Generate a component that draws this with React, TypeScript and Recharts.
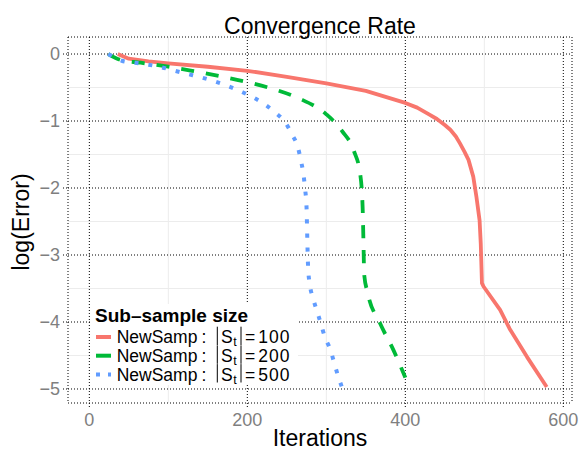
import React from 'react';
import { LineChart, Line, XAxis, YAxis, CartesianGrid, Legend, Customized } from 'recharts';

const redIter = [36, 50, 75, 100, 150, 200, 250, 300, 350, 400, 415, 430, 440, 450, 457, 464, 469, 475, 480, 486, 490, 494, 495.5, 497, 499, 520, 532, 554, 579];
const redErr = [0, -0.07, -0.11, -0.14, -0.19, -0.25, -0.34, -0.44, -0.55, -0.73, -0.8, -0.9, -0.97, -1.06, -1.13, -1.23, -1.33, -1.46, -1.58, -1.83, -2.13, -2.48, -2.83, -3.42, -3.47, -3.82, -4.1, -4.52, -4.97];

const greenIter = [24, 40, 65, 100, 130, 165, 200, 235, 265, 300, 320, 335, 343, 346, 347, 348, 352, 368, 385, 400];
const greenErr = [0, -0.09, -0.13, -0.19, -0.25, -0.33, -0.42, -0.53, -0.66, -0.9, -1.15, -1.45, -1.8, -2.3, -2.8, -3.3, -3.55, -4.02, -4.42, -4.83];

const blueIter = [24, 41, 58, 75, 92, 108, 125, 142, 159, 176, 192, 208, 222, 236, 248, 257, 264, 268, 271, 273, 275, 276, 277, 279, 283, 288, 293, 298, 305, 310, 315, 320];
const blueErr = [0, -0.1, -0.13, -0.16, -0.2, -0.25, -0.3, -0.35, -0.41, -0.48, -0.56, -0.65, -0.75, -0.88, -1.02, -1.21, -1.39, -1.6, -1.79, -2.0, -2.3, -2.8, -3.2, -3.43, -3.64, -3.83, -4.02, -4.22, -4.41, -4.61, -4.81, -4.98];

const sampleSizes = ['100', '200', '500'];
const xTicks = [0, 200, 400, 600];
const yTicks = [0, -1, -2, -3, -4, -5];
const xMinor = [100, 300, 500];
const yMinor = [-0.5, -1.5, -2.5, -3.5, -4.5];

const toPoints = (xs: number[], ys: number[]) => xs.map((x, i) => ({ iter: x, err: ys[i] }));

const series = [
  { name: sampleSizes[0], data: toPoints(redIter, redErr), color: '#F8766D', dash: undefined, keyDash: undefined, curve: 'linear' },
  { name: sampleSizes[1], data: toPoints(greenIter, greenErr), color: '#00BA38', dash: '13 12', keyDash: undefined, curve: 'monotone' },
  { name: sampleSizes[2], data: toPoints(blueIter, blueErr), color: '#619CFF', dash: '4 10', keyDash: '4 8', curve: 'monotone' },
];

const FONT = '"Liberation Sans", Arial, Helvetica, sans-serif';
const minus = (v: number) => String(v).replace('-', '\u2212');

// legend drawn as a small svg, origin at the wrapper's top-left
const LegendBox = () => (
  <svg width={208} height={86} style={{ display: 'block', fontFamily: FONT }}>
    <rect x={0} y={0} width={208} height={81} fill="#fff" />
    <text x={5} y={18} fontSize={19} fontWeight="bold" fill="#000">Sub–sample size</text>
    {series.map((s, i) => {
      const base = 39.3 + i * 18.7;
      return (
        <g key={s.name} fill="#000" fontSize={17.5}>
          <line x1={6} y1={base - 6.3} x2={21} y2={base - 6.3} stroke={s.color} strokeWidth={4} strokeDasharray={s.keyDash} />
          <text x={26.7} y={base}>NewSamp</text>
          <text x={111.5} y={base}>:</text>
          <line x1={127.3} y1={base - 16.6} x2={127.3} y2={base + 1.8} stroke="#000" strokeWidth={1} />
          <text x={131} y={base}>S</text>
          <text x={143.3} y={base + 3} fontSize={12.5}>t</text>
          <line x1={151} y1={base - 16.6} x2={151} y2={base + 1.8} stroke="#000" strokeWidth={1} />
          <text x={155} y={base}>=</text>
          <text x={168.3} y={base} letterSpacing={1}>{s.name}</text>
        </g>
      );
    })}
  </svg>
);

const Titles = () => (
  <g fontFamily={FONT}>
    <text x={320} y={34} textAnchor="middle" fontSize={23} fill="#000">Convergence Rate</text>
    <text x={320} y={446} textAnchor="middle" fontSize={23} fill="#000">Iterations</text>
    <text x={29} y={222} textAnchor="middle" fontSize={23} fill="#000" transform="rotate(-90, 29, 222)">log(Error)</text>
  </g>
);

const tickStyle = { fontSize: 18, fill: '#7f7f7f', fontFamily: FONT };
const dotted = { stroke: '#000', strokeDasharray: '1 2' };

export default function App() {
  return (
    <div style={{ position: 'absolute', left: 0, top: 0, width: 586, height: 457, background: '#fff' }}>
      <LineChart width={586} height={457} margin={{ top: 37, right: 14, bottom: 0, left: 0 }}>
        <CartesianGrid stroke="#ececec" strokeWidth={1} horizontalValues={yMinor} verticalValues={xMinor} />
        <CartesianGrid stroke="#000" strokeWidth={1} strokeDasharray="1 2" />
        <XAxis
          type="number"
          dataKey="iter"
          domain={[-27, 611]}
          ticks={xTicks}
          allowDataOverflow
          height={54}
          axisLine={false}
          tickLine={dotted}
          tickSize={4}
          tickMargin={6}
          tick={tickStyle}
        />
        <YAxis
          type="number"
          dataKey="err"
          domain={[-5.209, 0.254]}
          ticks={yTicks}
          allowDataOverflow
          width={68}
          axisLine={false}
          tickLine={dotted}
          tickSize={5}
          tickMargin={3}
          tick={tickStyle}
          tickFormatter={minus}
        />
        {series.map((s) => (
          <Line
            key={s.name}
            data={s.data}
            dataKey="err"
            type={s.curve as 'linear' | 'monotone'}
            stroke={s.color}
            strokeWidth={s.name === '500' ? 4 : 3.8}
            strokeDasharray={s.dash}
            strokeLinecap="butt"
            strokeLinejoin="round"
            dot={false}
            activeDot={false}
            isAnimationActive={false}
          />
        ))}
        <Legend
          layout="horizontal"
          verticalAlign="middle"
          align="center"
          wrapperStyle={{ left: 90, top: 304, width: 208, height: 86 }}
          content={() => <LegendBox />}
        />
        <Customized component={Titles} />
      </LineChart>
    </div>
  );
}
